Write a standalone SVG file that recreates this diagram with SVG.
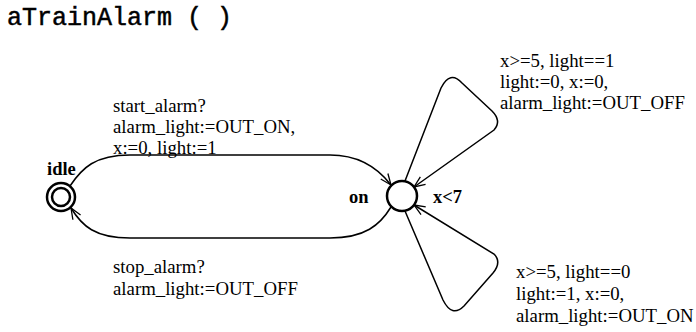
<svg xmlns="http://www.w3.org/2000/svg" width="696" height="332" viewBox="0 0 696 332">
<style>
.lbl{font-family:"Liberation Serif","Times New Roman",serif;font-size:18.8px;fill:#000}
.nm{font-family:"Liberation Serif","Times New Roman",serif;font-size:18.5px;font-weight:bold;fill:#000}
.edge{fill:none;stroke:#000;stroke-width:1.5}
.node{fill:#fff;stroke:#000;stroke-width:2.5}
</style>
<defs>
<marker id="arr" markerWidth="14" markerHeight="12" refX="12" refY="6" orient="auto" markerUnits="userSpaceOnUse">
<path d="M1,1.5 L12,6 L1,10.5" fill="none" stroke="#000" stroke-width="1.3"/>
</marker>
</defs>
<rect width="696" height="332" fill="#fff"/>
<text x="7" y="25" style="font-family:'Liberation Mono','Courier New',monospace;font-size:25px;fill:#000;stroke:#000;stroke-width:0.5">aTrainAlarm ( )</text>
<g id="connectors">
<path class="edge" d="M70,186 C82,168 95,155 130,155 L330,155 C360,155 378,168 391,185" marker-end="url(#arr)"/>
<path class="edge" d="M391,207 C380,225 365,238 330,238 L130,238 C95,238 82,226 71,208" marker-end="url(#arr)"/>
<path class="edge" d="M405,181 L441,88 Q450,70 462,83 L492,111 Q502,121 494,130 L414,187" marker-end="url(#arr)"/>
<path class="edge" d="M405,211 L443,300 Q452,318 464,306 L493,273 Q502,262 494,254 L414,205" marker-end="url(#arr)"/>
</g>
<g id="label-start">
<text class="lbl" x="113" y="112">start_alarm?</text>
<text class="lbl" x="113" y="133">alarm_light:=OUT_ON,</text>
<text class="lbl" x="113" y="154">x:=0, light:=1</text>
</g>
<g id="label-stop">
<text class="lbl" x="113" y="273">stop_alarm?</text>
<text class="lbl" x="113" y="295">alarm_light:=OUT_OFF</text>
</g>
<g id="label-loop-top">
<text class="lbl" x="500" y="67">x&gt;=5, light==1</text>
<text class="lbl" x="500" y="88">light:=0, x:=0,</text>
<text class="lbl" x="500" y="109">alarm_light:=OUT_OFF</text>
</g>
<g id="label-loop-bottom">
<text class="lbl" x="516" y="278">x&gt;=5, light==0</text>
<text class="lbl" x="516" y="300">light:=1, x:=0,</text>
<text class="lbl" x="516" y="322">alarm_light:=OUT_ON</text>
</g>
<g id="node-idle">
<circle class="node" cx="61" cy="197" r="14"/>
<circle class="node" cx="61" cy="197" r="9"/>
<text class="nm" x="47" y="175">idle</text>
</g>
<g id="node-on">
<circle class="node" cx="402" cy="196" r="15"/>
<text class="nm" x="349" y="203">on</text>
<text class="nm" x="433" y="203">x&lt;7</text>
</g>
</svg>
